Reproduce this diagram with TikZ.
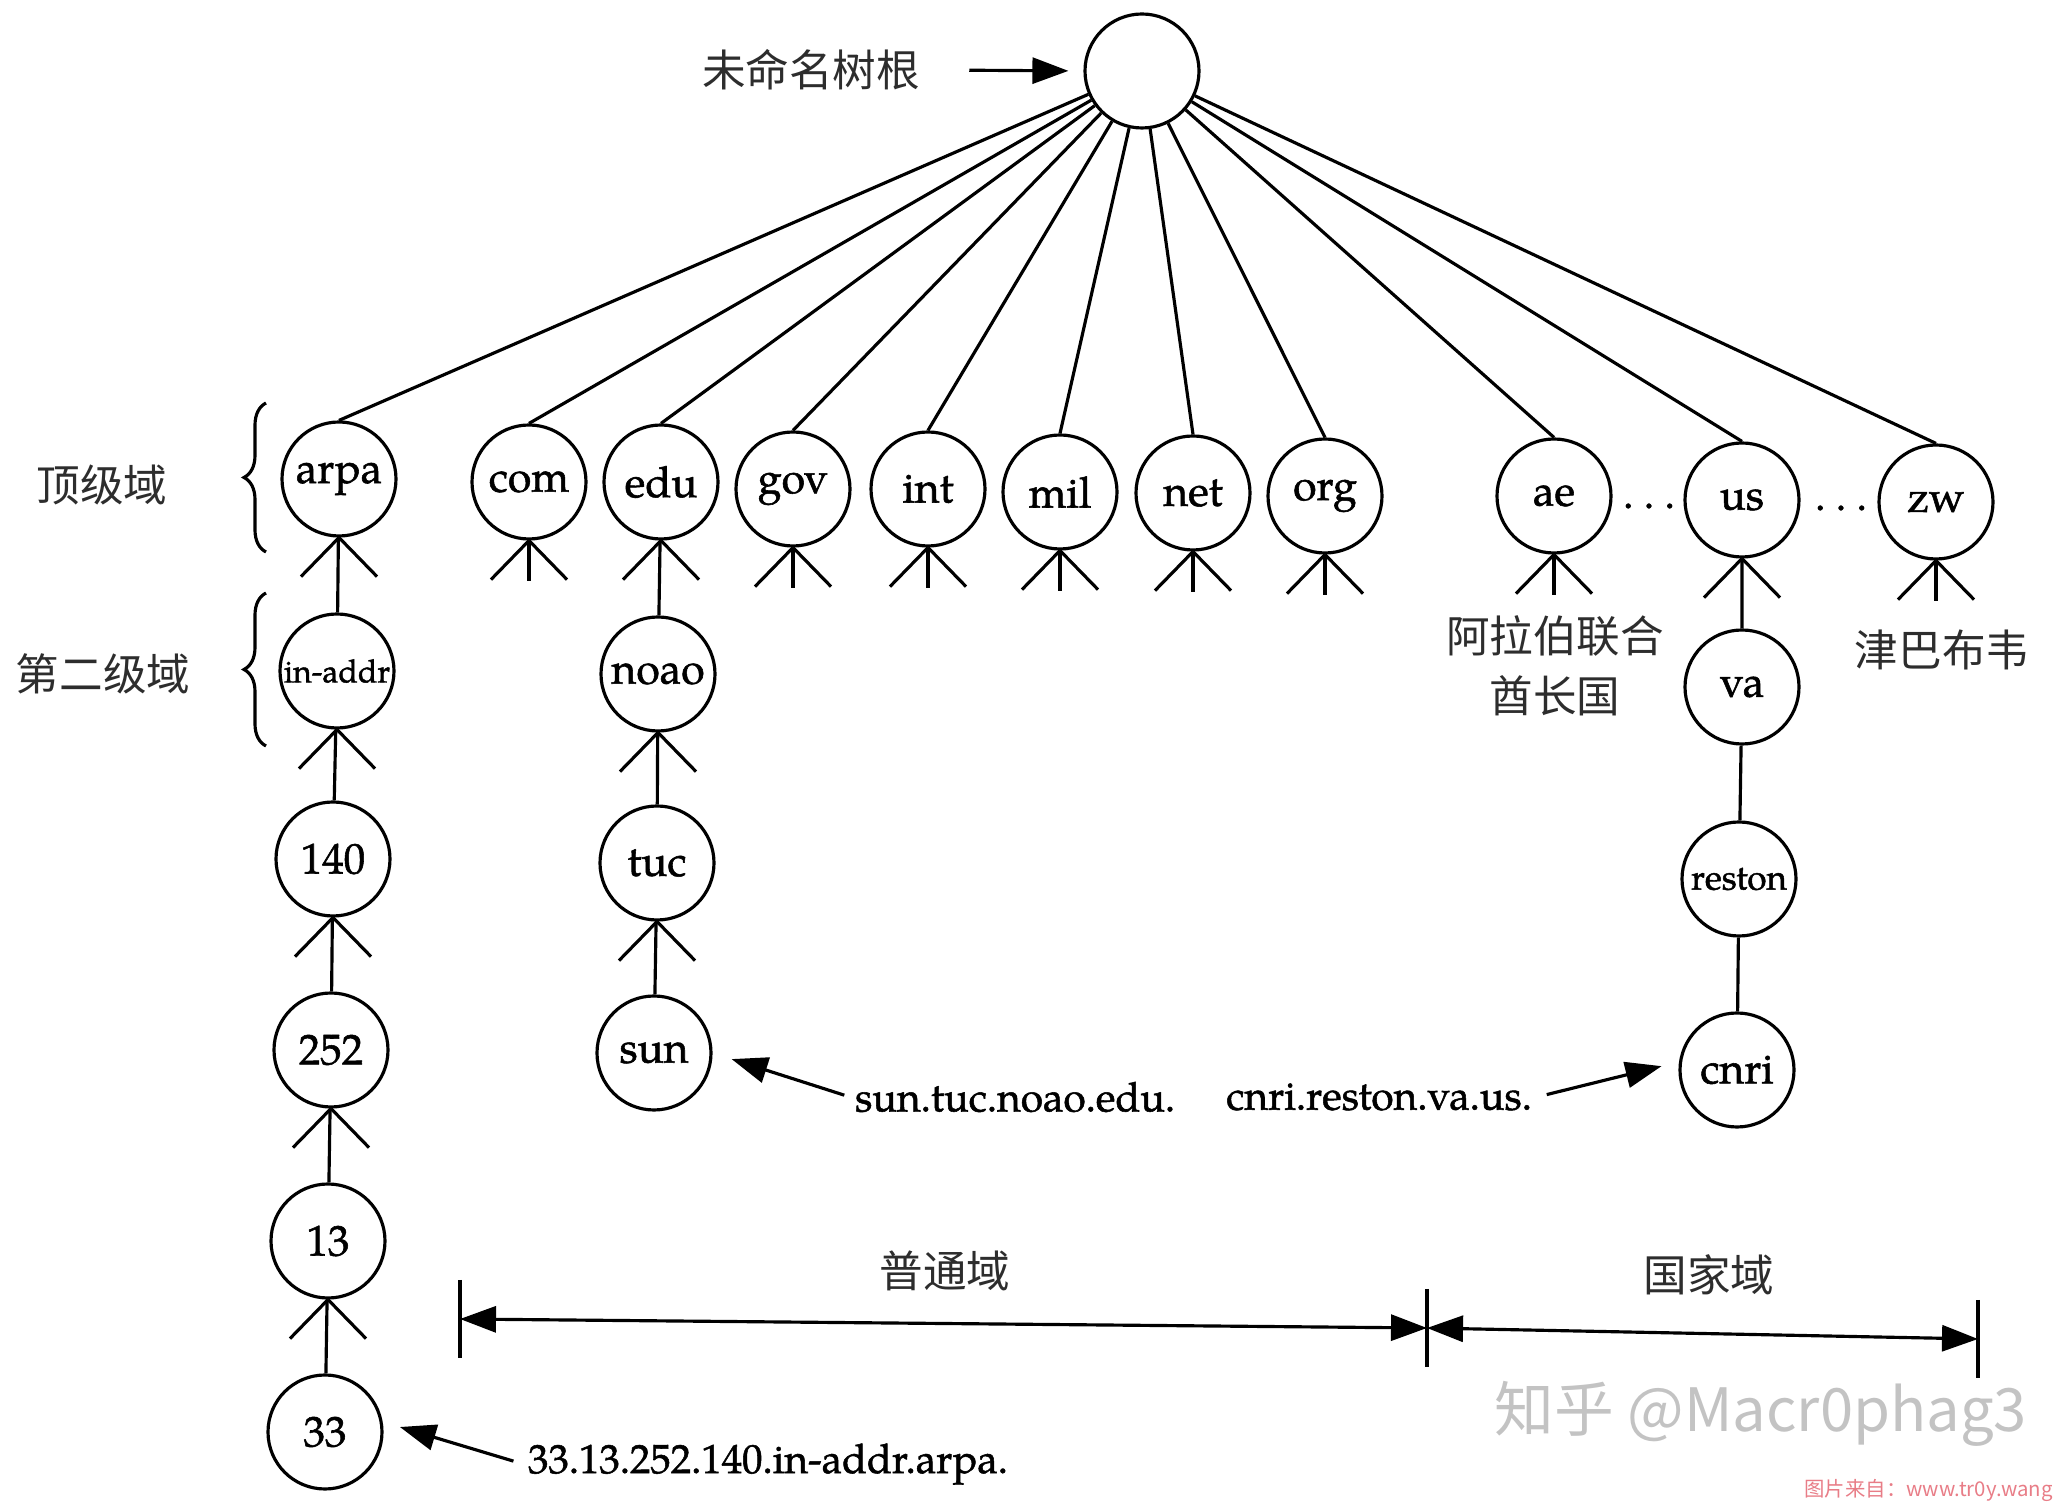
\documentclass[tikz,border=0pt]{standalone}
\usepackage{fontspec}
\setmainfont{TeX Gyre Pagella}
\newfontfamily\domfont{TeX Gyre Pagella}[FakeBold=1.3]
\newfontfamily\cjk{Noto Sans CJK SC}
\usepackage{tikz}
\usetikzlibrary{arrows.meta,decorations.pathreplacing}
\definecolor{cjkgray}{RGB}{45,45,45}
\definecolor{markgray}{RGB}{195,195,195}
\definecolor{srcpink}{RGB}{232,125,135}

\begin{document}
\begin{tikzpicture}[line width=0.9pt, >={Triangle[length=3.6mm,width=2.6mm]},
  dom/.style={draw, circle, minimum size=1.14cm, inner sep=0pt, font=\domfont\fontsize{12.2}{14}\selectfont},
  fqdn/.style={font=\domfont\fontsize{11.6}{13}\selectfont, inner sep=1pt},
  cjklabel/.style={font=\cjk\fontsize{12.4}{17}\selectfont, text=cjkgray, align=center}]
  \useasboundingbox (0,0) rectangle (20.72,-15.02);

  % unnamed root
  \node[dom] (root) at (11.42,-0.71) {};
  \node[cjklabel] (rootlabel) at (8.11,-0.70) {未命名树根};
  \draw[->, shorten <=0.36cm, shorten >=0.15cm] (rootlabel.east) -- (root.west);

  % top level domains
  \node[dom] (arpa) at (3.39,-4.79) {arpa};
  \node[dom] (com)  at (5.29,-4.82) {com};
  \node[dom] (edu)  at (6.61,-4.82) {edu};
  \node[dom] (gov)  at (7.93,-4.89) {gov};
  \node[dom] (int)  at (9.28,-4.89) {int};
  \node[dom] (mil)  at (10.60,-4.92) {mil};
  \node[dom] (net)  at (11.93,-4.93) {net};
  \node[dom] (org)  at (13.25,-4.96) {org};
  \node[dom] (ae)   at (15.54,-4.96) {ae};
  \node[dom] (us)   at (17.42,-5.00) {us};
  \node[dom] (zw)   at (19.36,-5.02) {zw};
  \node[fqdn] (dotsa) at (16.49,-5.06) {.\kern3pt.\kern3pt.};
  \node[fqdn] (dotsb) at (18.41,-5.08) {.\kern3pt.\kern3pt.};

  % arpa branch
  \node[dom, font=\domfont\fontsize{9.1}{11}\selectfont] (inaddr) at (3.37,-6.71) {in-addr};
  \node[dom] (n140) at (3.33,-8.59) {140};
  \node[dom] (n252) at (3.31,-10.50) {252};
  \node[dom] (n13)  at (3.28,-12.41) {13};
  \node[dom] (n33)  at (3.25,-14.32) {33};

  % edu branch
  \node[dom] (noao) at (6.58,-6.74) {noao};
  \node[dom] (tuc)  at (6.57,-8.63) {tuc};
  \node[dom] (sun)  at (6.54,-10.53) {sun};

  % us branch
  \node[dom] (va)     at (17.42,-6.87) {va};
  \node[dom, font=\domfont\fontsize{10}{12}\selectfont] (reston) at (17.39,-8.79) {reston};
  \node[dom] (cnri)   at (17.37,-10.70) {cnri};

  % root fan
  \foreach \n in {arpa,com,edu,gov,int,mil,net,org,ae,us,zw}
    \draw (root) -- (\n.north);

  % crow's feet
  \foreach \n in {arpa,com,edu,gov,int,mil,net,org,ae,us,zw,inaddr,n140,n252,n13,noao,tuc}
    \draw (\n.south) -- ++(-0.38,-0.39) (\n.south) -- ++(0.38,-0.39);
  \foreach \n in {com,gov,int,mil,net,org,ae,zw}
    \draw (\n.south) -- ++(0,-0.40);

  % parent links
  \draw (arpa) -- (inaddr) (inaddr) -- (n140) (n140) -- (n252) (n252) -- (n13) (n13) -- (n33);
  \draw (edu) -- (noao) (noao) -- (tuc) (tuc) -- (sun);
  \draw (us) -- (va) (va) -- (reston) (reston) -- (cnri);

  % level braces
  \draw[decorate, decoration={brace, amplitude=0.22cm}] (2.66,-5.52) -- (2.66,-4.03);
  \draw[decorate, decoration={brace, amplitude=0.22cm}] (2.66,-7.46) -- (2.66,-5.93);
  \node[cjklabel] (toplvl) at (1.02,-4.85) {顶级域};
  \node[cjklabel] (seclvl) at (1.03,-6.74) {第二级域};

  % country names
  \node[cjklabel] (aename) at (15.55,-6.66) {阿拉伯联合\\酋长国};
  \node[cjklabel] (zwname) at (19.42,-6.50) {津巴布韦};

  % full names
  \node[fqdn, anchor=west] (sunname)  at (8.50,-10.97) {sun.tuc.noao.edu.};
  \node[fqdn, anchor=east] (cnriname) at (15.37,-10.97) {cnri.reston.va.us.};
  \node[fqdn, anchor=west] (addrname) at (5.23,-14.64) {33.13.252.140.in-addr.arpa.};
  \draw[->, shorten <=0.06cm, shorten >=0.2cm] (sunname.west) -- (sun.east);
  \draw[->, shorten <=0.1cm, shorten >=0.18cm] (cnriname.east) -- (cnri.172);
  \draw[->, shorten <=0.1cm, shorten >=0.18cm] (addrname.west) -- (n33.10);

  % generic / country span
  \coordinate (gl) at (4.60,-13.19);
  \coordinate (gm) at (14.27,-13.28);
  \coordinate (gr) at (19.78,-13.39);
  \foreach \c in {gl,gm,gr}
    \draw (\c) ++(0,0.39) -- ++(0,-0.78);
  \draw[<->] (gl) -- (gm);
  \draw[<->] (gm) -- (gr);
  \node[cjklabel] (generic) at (9.45,-12.71) {普通域};
  \node[cjklabel] (country) at (17.09,-12.75) {国家域};

  % watermarks
  \node[font=\cjk\fontsize{17}{20}\selectfont, text=markgray] (mark) at (17.61,-14.14) {知乎 @Macr0phag3};
  \node[font=\cjk\fontsize{5.8}{7}\selectfont, text=srcpink, anchor=east] (source) at (20.66,-14.90) {图片来自：www.tr0y.wang};
\end{tikzpicture}
\end{document}
